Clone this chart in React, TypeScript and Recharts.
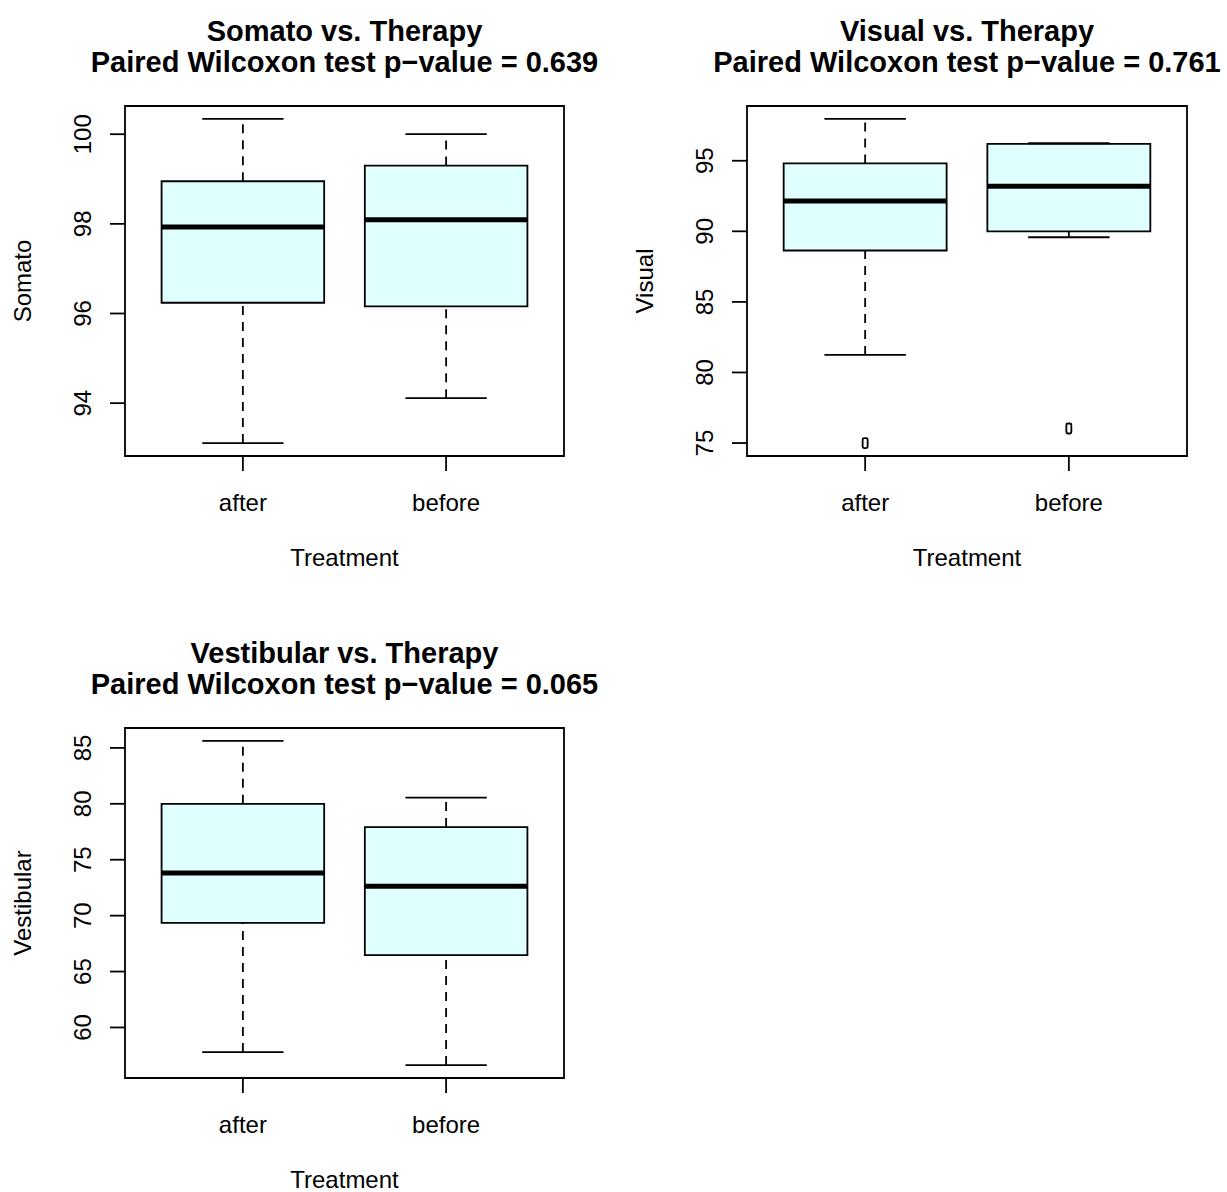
import {
  ComposedChart,
  XAxis,
  YAxis,
  ReferenceArea,
  ReferenceLine,
  Scatter,
} from "recharts";

const groups = ["after", "before"];

// per group: [lower whisker, Q1, median, Q3, upper whisker]
const somatoStats = [
  [93.11, 96.24, 97.93, 98.95, 100.34],
  [94.11, 96.16, 98.09, 99.3, 100.0],
];
const somatoOutliers: number[][] = [[], []];
const somatoTicks = [94, 96, 98, 100];

const visualStats = [
  [81.24, 88.64, 92.14, 94.81, 97.96],
  [89.58, 90.0, 93.19, 96.2, 96.24],
];
const visualOutliers = [[75.0], [76.03]];
const visualTicks = [75, 80, 85, 90, 95];

const vestibularStats = [
  [57.8, 69.35, 73.81, 80.0, 85.62],
  [56.64, 66.46, 72.62, 77.92, 80.56],
];
const vestibularOutliers: number[][] = [[], []];
const vestibularTicks = [60, 65, 70, 75, 80, 85];

const FONT = "'Liberation Sans', Arial, Helvetica, sans-serif";
const W = 613;
const H = 596;
const PLOT_TOP = 106;
const PLOT_BOTTOM = 456;
const LW = 1.8;

interface PanelProps {
  name: string;
  stats: number[][];
  outliers: number[][];
  ticks: number[];
  pValue: string;
  left: number;
  top: number;
  plotLeft: number;
  plotRight: number;
}

function Outlier({ cx, cy }: any) {
  if (cx == null || cy == null) return null;
  return (
    <rect x={cx - 2.5} y={cy - 5} width={5} height={10} rx={1.5} fill="none" stroke="#000" strokeWidth={LW} />
  );
}

function BoxPanel({ name, stats, outliers, ticks, pValue, left, top, plotLeft, plotRight }: PanelProps) {
  // R-style axis limits: data range widened by 4% on each side
  const all = [...stats.flat(), ...outliers.flat()];
  const lo = Math.min(...all);
  const hi = Math.max(...all);
  const pad = (hi - lo) * 0.04;
  const yDomain = [lo - pad, hi + pad];
  const xDomain = [0.5 - 0.04 * groups.length, groups.length + 0.5 + 0.04 * groups.length];

  const chartData = groups.map((g, i) => ({ x: i + 1, y: stats[i][2], name: g }));
  const outlierData = outliers.flatMap((vals, i) => vals.map((v) => ({ x: i + 1, y: v })));

  const YTick = ({ y, payload }: any) => {
    const cx = plotLeft - 43;
    return (
      <text
        x={cx}
        y={y}
        dy="0.36em"
        transform={`rotate(-90 ${cx} ${y})`}
        textAnchor="middle"
        fontSize={24}
        fontFamily={FONT}
        fill="#000"
      >
        {payload.value}
      </text>
    );
  };

  const XTick = ({ x, payload }: any) => (
    <text x={x} y={PLOT_BOTTOM + 55} textAnchor="middle" fontSize={24} fontFamily={FONT} fill="#000">
      {groups[payload.value - 1]}
    </text>
  );

  const plotMid = (plotLeft + plotRight) / 2;

  return (
    <div style={{ position: "absolute", left, top, width: W, height: H }}>
      <ComposedChart
        width={W}
        height={H}
        data={chartData}
        margin={{ top: PLOT_TOP, right: W - plotRight, bottom: H - PLOT_BOTTOM - 60, left: plotLeft - 60 }}
      >
        <XAxis
          type="number"
          dataKey="x"
          domain={xDomain}
          ticks={groups.map((_, i) => i + 1)}
          allowDataOverflow
          height={60}
          axisLine={false}
          tickSize={15}
          tickLine={{ stroke: "#000", strokeWidth: LW }}
          tick={<XTick />}
          label={{
            content: ({ viewBox }: any) => (
              <text
                x={viewBox.x + viewBox.width / 2}
                y={PLOT_BOTTOM + 110}
                textAnchor="middle"
                fontSize={24}
                fontFamily={FONT}
                fill="#000"
              >
                Treatment
              </text>
            ),
          }}
        />
        <YAxis
          type="number"
          dataKey="y"
          domain={yDomain}
          ticks={ticks}
          allowDataOverflow
          width={60}
          axisLine={false}
          tickSize={15}
          tickLine={{ stroke: "#000", strokeWidth: LW }}
          tick={<YTick />}
          label={{
            content: () => {
              const cx = plotLeft - 103;
              const cy = (PLOT_TOP + PLOT_BOTTOM) / 2;
              return (
                <text
                  x={cx}
                  y={cy}
                  dy="0.36em"
                  transform={`rotate(-90 ${cx} ${cy})`}
                  textAnchor="middle"
                  fontSize={24}
                  fontFamily={FONT}
                  fill="#000"
                >
                  {name}
                </text>
              );
            },
          }}
        />

        {stats.map((s, i) => {
          const x = i + 1;
          const [lw, q1, med, q3, hw] = s;
          return [
            <ReferenceLine key={`wl${i}`} segment={[{ x, y: lw }, { x, y: q1 }]} stroke="#000" strokeWidth={LW} strokeDasharray="9 7" />,
            <ReferenceLine key={`wh${i}`} segment={[{ x, y: q3 }, { x, y: hw }]} stroke="#000" strokeWidth={LW} strokeDasharray="9 7" />,
            <ReferenceLine key={`sl${i}`} segment={[{ x: x - 0.2, y: lw }, { x: x + 0.2, y: lw }]} stroke="#000" strokeWidth={LW} />,
            <ReferenceLine key={`sh${i}`} segment={[{ x: x - 0.2, y: hw }, { x: x + 0.2, y: hw }]} stroke="#000" strokeWidth={LW} />,
            <ReferenceArea key={`b${i}`} x1={x - 0.4} x2={x + 0.4} y1={q1} y2={q3} fill="#E0FFFF" fillOpacity={1} stroke="#000" strokeWidth={LW} />,
            <ReferenceLine key={`m${i}`} segment={[{ x: x - 0.4, y: med }, { x: x + 0.4, y: med }]} stroke="#000" strokeWidth={5} />,
          ];
        })}

        {/* plot frame */}
        <ReferenceArea x1={xDomain[0]} x2={xDomain[1]} y1={yDomain[0]} y2={yDomain[1]} fill="none" stroke="#000" strokeWidth={LW} ifOverflow="visible" />

        {outlierData.length > 0 && (
          <Scatter data={outlierData} dataKey="y" shape={<Outlier />} isAnimationActive={false} />
        )}
      </ComposedChart>

      <svg width={W} height={PLOT_TOP} style={{ position: "absolute", left: 0, top: 0, pointerEvents: "none" }}>
        <text x={plotMid} y={PLOT_TOP - 65} textAnchor="middle" fontSize={29} fontWeight="bold" fontFamily={FONT} fill="#000">
          {name} vs. Therapy
        </text>
        <text x={plotMid} y={PLOT_TOP - 34} textAnchor="middle" fontSize={29} fontWeight="bold" fontFamily={FONT} fill="#000">
          Paired Wilcoxon test p{"\u2212"}value = {pValue}
        </text>
      </svg>
    </div>
  );
}

export default function App() {
  return (
    <div
      style={{
        position: "absolute",
        left: 0,
        top: 0,
        width: 1227,
        height: 1192,
        overflow: "hidden",
        background: "#fff",
        fontFamily: FONT,
      }}
    >
      <BoxPanel
        name="Somato"
        stats={somatoStats}
        outliers={somatoOutliers}
        ticks={somatoTicks}
        pValue="0.639"
        left={0}
        top={0}
        plotLeft={125}
        plotRight={564}
      />
      <BoxPanel
        name="Visual"
        stats={visualStats}
        outliers={visualOutliers}
        ticks={visualTicks}
        pValue="0.761"
        left={613}
        top={0}
        plotLeft={134}
        plotRight={574}
      />
      <BoxPanel
        name="Vestibular"
        stats={vestibularStats}
        outliers={vestibularOutliers}
        ticks={vestibularTicks}
        pValue="0.065"
        left={0}
        top={622}
        plotLeft={125}
        plotRight={564}
      />
    </div>
  );
}
